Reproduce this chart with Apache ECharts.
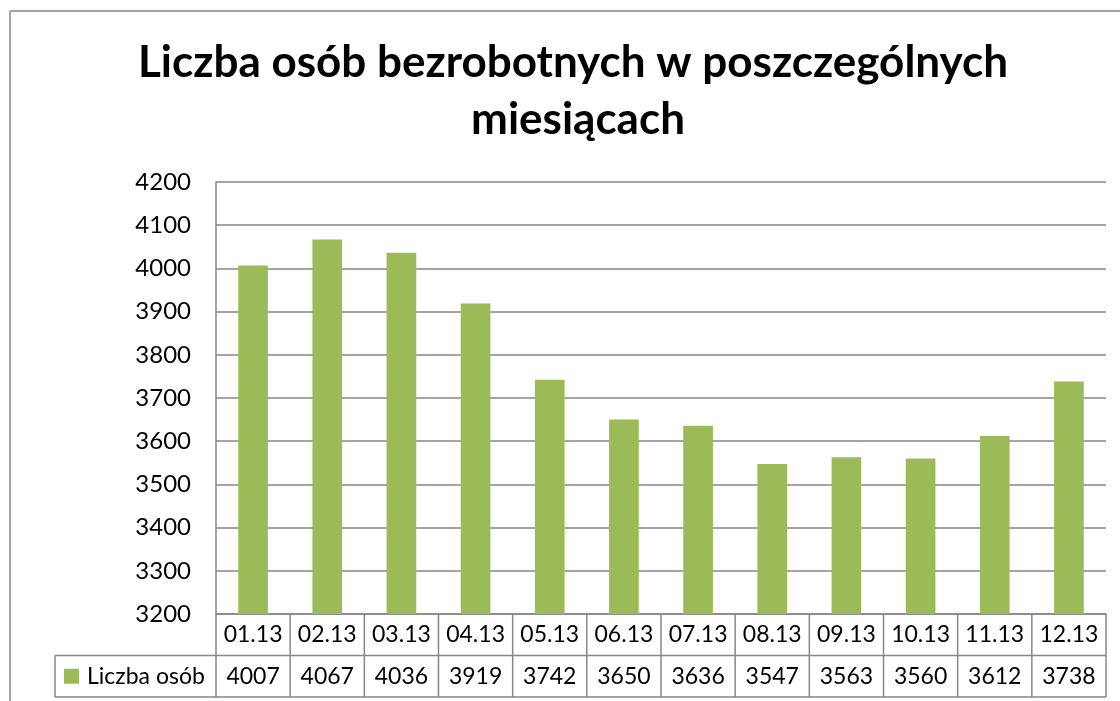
<!DOCTYPE html>
<html><head><meta charset="utf-8">
<script src="https://cdn.jsdelivr.net/npm/echarts@6/dist/echarts.min.js"></script>
<style>html,body{margin:0;padding:0;background:#fff}#c{width:1120px;height:701px}</style>
</head><body><div id="c"></div>
<script>
const categories = ['01.13','02.13','03.13','04.13','05.13','06.13','07.13','08.13','09.13','10.13','11.13','12.13'];
const values = [4007,4067,4036,3919,3742,3650,3636,3547,3563,3560,3612,3738];
const seriesName = 'Liczba osób';
const titleLines = ['Liczba osób bezrobotnych w poszczególnych', 'miesiącach'];
const yMin = 3200, yMax = 4200, yStep = 100;

const FONT = 'Lato, "Open Sans", sans-serif';
const GRAY = '#878787';
const GREEN = '#9BBB59';
const chart = echarts.init(document.getElementById('c'), null, {renderer: 'canvas'});

chart.setOption({
  animation: false,
  grid: {left: 216, right: 14, top: 182, bottom: 87, containLabel: false},
  xAxis: {
    type: 'category', data: categories,
    axisLine: {show: true, lineStyle: {color: GRAY, width: 1.5}},
    axisTick: {show: false}, axisLabel: {show: false}
  },
  yAxis: {
    type: 'value', min: yMin, max: yMax, interval: yStep,
    axisLine: {show: true, lineStyle: {color: GRAY, width: 1.5}},
    axisTick: {show: false},
    axisLabel: {color: '#000', fontFamily: FONT, fontSize: 24, margin: 25, formatter: v => String(v)},
    splitLine: {lineStyle: {color: GRAY, width: 1.5}}
  },
  series: [{
    name: seriesName, type: 'bar', data: values,
    barWidth: '40%',
    itemStyle: {color: GREEN}
  }]
});

// build data table beneath plot from axis scale
const c0 = chart.convertToPixel({xAxisIndex: 0}, 0);
const c1 = chart.convertToPixel({xAxisIndex: 0}, 1);
const step = c1 - c0;
const yTop = chart.convertToPixel({yAxisIndex: 0}, yMin);
const rowH = 41.5;
const y1 = yTop + rowH, y2 = yTop + 2 * rowH;
const xL = c0 - step / 2, xR = c0 + step * (categories.length - 0.5);
const legendL = 55;
const lineStyle = {stroke: GRAY, lineWidth: 1.5};
const g = [];
function ln(x1, ya, x2, yb) { g.push({type: 'line', shape: {x1: x1, y1: ya, x2: x2, y2: yb}, style: lineStyle, silent: true}); }
// outer border
ln(10, 11, 1120, 11); ln(10, 11, 10, 701);
// table lines
ln(xL, y1, xR, y1); ln(legendL, y1, xL, y1);
ln(legendL, y2, xR, y2);
ln(legendL, y1, legendL, y2);
for (let i = 0; i <= categories.length; i++) {
  const x = xL + i * step;
  ln(x, yTop, x, y2);
}
categories.forEach((cat, i) => {
  const cx = chart.convertToPixel({xAxisIndex: 0}, i);
  g.push({type: 'text', style: {text: cat, x: cx, y: yTop + rowH / 2, textAlign: 'center', textVerticalAlign: 'middle', font: '23px ' + FONT, fill: '#000'}});
  g.push({type: 'text', style: {text: String(values[i]), x: cx, y: y1 + rowH / 2, textAlign: 'center', textVerticalAlign: 'middle', font: '23px ' + FONT, fill: '#000'}});
});
// legend key
g.push({type: 'rect', shape: {x: 64, y: y1 + rowH / 2 - 7.5, width: 15, height: 15}, style: {fill: GREEN}});
g.push({type: 'text', style: {text: seriesName, x: 87, y: y1 + rowH / 2, textAlign: 'left', textVerticalAlign: 'middle', font: '23px ' + FONT, fill: '#000'}});
// title
g.push({type: 'text', style: {text: titleLines[0], x: 573, y: 63, textAlign: 'center', textVerticalAlign: 'middle', font: 'bold 44px ' + FONT, fill: '#000'}});
g.push({type: 'text', style: {text: titleLines[1], x: 578, y: 120, textAlign: 'center', textVerticalAlign: 'middle', font: 'bold 44px ' + FONT, fill: '#000'}});
chart.setOption({graphic: g});
</script></body></html>
